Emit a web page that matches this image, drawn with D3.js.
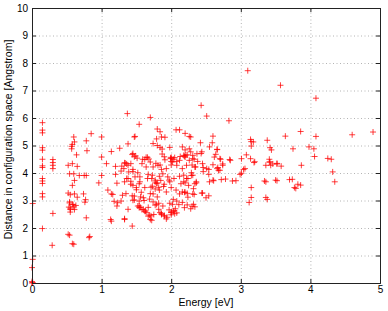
<!DOCTYPE html>
<html>
<head>
<meta charset="utf-8">
<script src="https://cdn.jsdelivr.net/npm/d3@7/dist/d3.min.js"></script>
<style>
  body { margin: 0; background: #fff; }
  text { font-family: "Liberation Sans", Arial, sans-serif; }
</style>
</head>
<body>
<svg width="388" height="311"></svg>
<script>
// energy [eV] / distance [Angstrom] pairs
var energy = [
  0,0.01,0,0,0.01,0.01,
  0.15,0.15,0.15,0.15,0.15,0.15,0.15,0.15,0.15,0.15,0.15,0.15,0.15,0.15,
  0.3,0.3,0.3,0.3,0.3,0.29,
  0.6,0.61,0.58,0.57,0.57,0.64,0.78,0.79,0.85,1.0,1.0,
  0.52,0.58,0.65,0.54,0.6,0.68,0.61,0.58,0.52,0.55,0.61,0.65,0.54,0.58,0.53,0.63,0.55,0.55,0.61,0.52,0.54,0.58,0.6,
  0.75,0.78,0.74,0.77,0.76,0.78,0.82,0.83,1.0,0.96,0.54,0.59,0.6,0.55,
  1.09,1.14,1.16,1.18,1.13,1.14,1.33,1.44,1.23,1.22,1.28,1.3,1.2,1.22,1.2,1.07,1.28,1.34,1.38,1.42,
  1.32,1.39,1.45,1.36,1.42,1.48,1.45,1.54,1.5,1.57,1.44,1.47,1.54,1.52,1.54,1.58,1.62,1.64,1.67,1.7,
  1.72,1.75,1.79,1.88,1.84,1.86,1.9,1.93,1.94,2.0,2.03,2.05,2.08,2.02,2.03,2.08,1.58,1.64,1.62,1.7,
  1.74,1.81,1.67,1.72,1.77,1.79,1.85,1.82,1.89,1.77,1.71,1.74,1.69,1.88,1.93,1.95,1.98,2.02,2.0,2.05,
  2.08,2.12,2.16,2.2,2.26,2.29,2.31,2.34,2.37,2.22,2.14,2.19,2.31,2.12,2.34,
  1.45,1.52,1.55,1.66,1.73,1.77,1.83,1.9,1.97,2.04,2.12,2.18,2.2,2.25,2.36,2.46,1.38,1.33,1.42,1.5,
  1.55,1.62,1.73,1.8,1.83,1.93,2.0,2.07,2.16,2.23,2.32,2.44,1.35,1.47,1.6,1.7,1.8,
  1.33,1.36,1.29,1.59,1.66,1.78,1.84,1.86,1.91,1.99,2.0,2.0,2.08,2.13,2.2,2.23,2.3,2.38,2.46,1.45,1.49,
  1.45,1.56,1.61,1.38,1.33,1.54,1.56,1.6,1.63,1.69,1.71,1.67,1.74,1.77,1.82,1.86,1.9,1.98,1.97,2.0,
  2.04,2.06,2.0,1.82,2.16,2.23,2.28,2.11,2.5,
  1.37,1.7,1.54,1.48,1.47,1.38,1.26,1.14,1.44,1.47,1.51,1.64,1.68,1.8,1.84,1.79,1.8,1.84,1.87,1.86,
  1.91,1.87,1.9,2.0,2.03,2.07,2.12,2.2,2.26,2.28,2.16,2.18,2.26,2.28,2.33,2.43,1.74,1.98,
  2.51,2.83,2.42,2.59,2.6,2.55,2.66,2.64,2.62,2.43,2.19,2.31,2.84,2.7,3.01,3.08,3.14,
  3.1,3.57,4.08,3.14,3.15,3.18,3.15,3.38,3.42,3.44,3.64,3.75,3.86,3.98,4.05,4.08,4.06,4.3,4.6,4.9,
  2.66,2.71,2.6,2.74,2.67,2.7,3.19,3.41,3.42,3.46,3.52,3.58,2.6,2.72,2.88,3.04,3.01,3.34,3.5,3.7,
  3.77,3.82,3.15,3.36,3.38,3.12,
  4.32,4.35,3.86,3.79,3.87,3.15,3.2,2.85,2.78,2.74,2.66,2.68,2.61,2.55,2.54,2.54,2.51,2.54,2.45,2.33,
  2.2,2.32,2.34,2.3,2.19,2.24,2.36,2.31,2.29,2.24,2.18,2.35,2.22,2.45,2.44,2.21,3.06,2.99,2.93,3.52,
  3.43,3.41,3.36,3.36,3.52,3.74,4.25
];
var distance = [
  0,0.02,0.05,0.56,0.86,2.89,
  5.83,5.56,5.46,4.92,4.83,4.5,4.26,4.2,3.8,3.71,3.62,3.25,3.13,1.98,
  4.49,4.38,4.28,4.16,2.53,1.37,
  5.31,5.13,5.04,4.97,4.88,4.66,5.17,4.81,5.43,5.31,4.58,
  4.28,4.34,4.24,3.97,3.97,3.91,3.73,3.55,3.27,3.21,3.24,3.12,2.91,2.86,2.76,2.82,2.67,2.58,2.67,1.77,1.74,1.43,1.41,
  3.91,3.91,3.24,3.03,2.94,2.37,1.65,1.69,3.91,3.64,2.95,2.85,2.77,2.72,
  3.38,3.24,3.22,2.97,2.31,2.25,2.31,2.07,2.92,2.8,2.98,3.19,3.95,3.63,4.24,4.34,4.07,4.36,4.28,4.34,
  4.16,4.04,4.13,3.8,3.7,3.86,3.55,3.61,3.39,3.3,3.17,3.02,2.98,2.8,2.74,2.67,2.61,2.56,2.43,2.31,
  2.28,2.49,2.86,2.8,2.56,2.49,2.43,2.33,2.39,2.56,2.61,2.52,2.55,2.86,3.04,2.98,4.34,4.22,4.49,4.4,
  4.22,4.28,3.95,3.8,3.67,3.62,3.73,3.48,3.51,3.42,3.48,3.24,3.05,3.97,4.16,3.86,3.68,4.4,4.52,4.56,
  4.28,4.46,4.16,4.58,4.46,3.91,4.64,4.22,4.7,3.8,3.61,3.3,3.24,3.24,3.61,
  4.05,4.01,3.86,3.8,3.92,3.74,3.88,3.59,3.74,3.8,3.88,3.92,3.64,3.55,3.64,4.05,3.8,3.68,3.59,3.47,
  3.68,3.47,3.52,3.64,3.38,3.31,3.47,3.38,3.31,3.26,3.43,3.27,3.25,3.16,3.1,3.25,3.13,
  4.37,4.33,4.25,4.5,4.57,4.35,4.29,4.13,4.48,4.54,4.42,4.29,4.42,4.6,4.84,4.66,4.29,4.42,4.2,4.71,4.62,
  3.01,3.13,3.0,2.68,2.34,2.8,2.75,2.68,2.62,2.47,2.44,2.75,2.95,2.83,2.68,2.53,2.46,2.9,2.66,2.58,
  2.63,2.7,2.48,2.9,2.93,2.84,2.7,2.85,3.1,
  6.16,6.02,5.77,5.33,5.31,5.06,4.9,4.78,4.67,4.59,4.54,4.57,4.51,5.6,5.5,5.24,5.0,4.93,4.87,5.31,
  5.3,4.69,4.59,4.57,4.5,5.57,5.57,5.44,5.33,5.31,4.95,4.64,4.88,4.77,4.5,6.46,5.07,4.93,
  6.07,5.9,5.1,5.1,5.34,4.95,4.85,4.68,4.58,4.71,4.61,4.52,4.49,4.52,4.52,4.66,4.52,
  7.72,7.19,6.72,5.22,5.14,5.13,4.98,5.19,4.92,4.84,5.34,4.88,5.51,4.95,4.88,5.33,4.6,4.5,5.39,5.49,
  4.86,4.5,4.3,4.33,4.2,4.1,4.38,4.5,4.4,4.33,4.35,4.25,3.74,3.76,3.71,4.13,3.99,3.71,3.74,3.76,
  3.47,3.59,3.11,3.11,3.04,2.93,
  4.04,3.68,3.56,3.44,4.28,3.47,4.41,4.46,3.78,4.28,4.16,4.1,3.72,3.68,3.95,4.13,4.16,3.17,3.27,3.22,
  3.3,2.86,2.77,2.79,2.74,3.12,3.68,3.92,4.01,3.8,3.68,4.22,4.28,4.34,4.77,4.65,4.16,3.95,3.72,4.33,
  4.28,4.4,4.28,3.68,3.72,3.77,4.53
];
var xTicks = [0, 1, 2, 3, 4, 5];
var yTicks = [0, 1, 2, 3, 4, 5, 6, 7, 8, 9, 10];

var svg = d3.select("svg");
var margin = {top: 8, right: 8, bottom: 28, left: 32};
var w = 388 - margin.left - margin.right;
var h = 311 - margin.top - margin.bottom;

var x = d3.scaleLinear().domain([0, 5]).range([0, w]);
var y = d3.scaleLinear().domain([0, 10]).range([h, 0]);

var plot = svg.append("g")
  .attr("transform", "translate(" + margin.left + "," + margin.top + ")");

// dotted grid
plot.append("g")
  .attr("class", "grid")
  .attr("transform", "translate(0," + h + ")")
  .call(d3.axisBottom(x).tickValues(xTicks).tickSize(-h).tickFormat(""));
plot.append("g")
  .attr("class", "grid")
  .call(d3.axisLeft(y).tickValues(yTicks).tickSize(-w).tickFormat(""));
plot.selectAll(".grid .domain").remove();
plot.selectAll(".grid line")
  .attr("stroke", "#b4b4b4")
  .attr("stroke-dasharray", "1,2.5");

// markers
plot.selectAll("path.pt")
  .data(energy.map(function(e, i) { return [e, distance[i]]; }))
  .enter().append("path")
  .attr("class", "pt")
  .attr("d", function(d) {
    var px = x(d[0]), py = y(d[1]);
    return "M" + (px - 3) + "," + py + "H" + (px + 3) + "M" + px + "," + (py - 3) + "V" + (py + 3);
  })
  .attr("stroke", "#ff0000")
  .attr("stroke-opacity", 0.75)
  .attr("stroke-width", 1);

// axes, ticks pointing inwards on all four sides
var fmt = function(d) { return d3.format("~g")(d); };
var xb = plot.append("g").attr("transform", "translate(0," + h + ")")
  .call(d3.axisBottom(x).tickValues(xTicks).tickSize(-4).tickPadding(3).tickFormat(fmt));
var xt = plot.append("g")
  .call(d3.axisTop(x).tickValues(xTicks).tickSize(-4).tickFormat(""));
var yl = plot.append("g")
  .call(d3.axisLeft(y).tickValues(yTicks).tickSize(-4).tickPadding(4).tickFormat(fmt));
var yr = plot.append("g").attr("transform", "translate(" + w + ",0)")
  .call(d3.axisRight(y).tickValues(yTicks).tickSize(-4).tickFormat(""));

[xb, xt, yl, yr].forEach(function(g) {
  g.select(".domain").attr("stroke", "#222");
  g.selectAll(".tick line").attr("stroke", "#222");
  g.selectAll(".tick text")
    .attr("fill", "#000")
    .style("font-size", "10px")
    .style("font-family", "Liberation Sans, Arial, sans-serif");
});

svg.append("text")
  .attr("x", margin.left + w / 2)
  .attr("y", 306)
  .attr("text-anchor", "middle")
  .style("font-size", "10.5px")
  .text("Energy [eV]");

svg.append("text")
  .attr("transform", "translate(12," + (margin.top + h / 2 - 6) + ") rotate(-90)")
  .attr("text-anchor", "middle")
  .style("font-size", "10.5px")
  .text("Distance in configuration space [Angstrom]");
</script>
</body>
</html>
